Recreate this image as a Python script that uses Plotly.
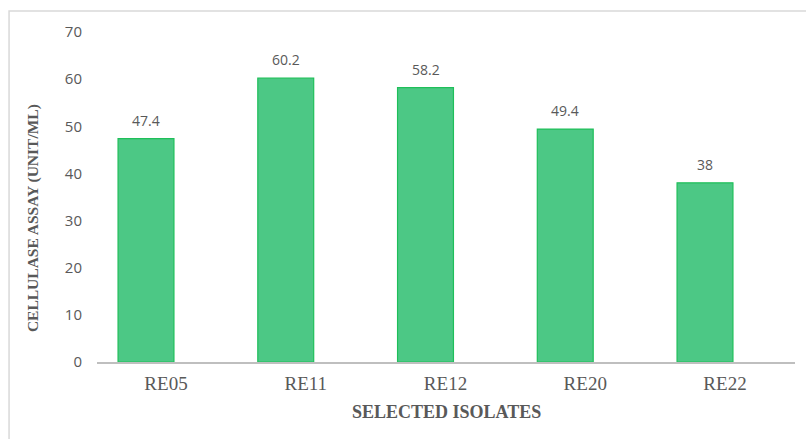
import plotly.graph_objects as go

isolates = ["RE05", "RE11", "RE12", "RE20", "RE22"]
activity = [47.4, 60.2, 58.2, 49.4, 38]
y_ticks = [0, 10, 20, 30, 40, 50, 60, 70]

grey_text = "#595959"
serif = "Liberation Serif, Times New Roman, serif"
sans = "Open Sans, Noto Sans, sans-serif"

fig = go.Figure()
fig.add_trace(go.Bar(
    x=isolates,
    y=activity,
    marker=dict(color="#4CC885", line=dict(color="#1FBF5A", width=1.2)),
    width=0.4,
    hoverinfo="x+y",
))

# value labels above each bar
for name, val in zip(isolates, activity):
    fig.add_annotation(
        x=name, y=val, xref="x", yref="y",
        text=f"{val:g}", showarrow=False,
        yanchor="bottom", yshift=7,
        font=dict(family=sans, size=14, color=grey_text),
    )

# axis titles
fig.add_annotation(
    x=0.5, y=-0.1515, xref="paper", yref="paper",
    text="<b>SELECTED ISOLATES</b>", showarrow=False,
    xanchor="center", yanchor="middle",
    font=dict(family=serif, size=18, color=grey_text),
)
fig.add_annotation(
    x=-0.0917, y=0.436, xref="paper", yref="paper",
    text="<b>CELLULASE ASSAY (UNIT/ML)</b>", showarrow=False,
    textangle=-90, xanchor="center", yanchor="middle",
    font=dict(family=serif, size=15.5, color=grey_text),
)

# chart-area border (left and top edges visible)
fig.add_shape(
    type="rect", xref="paper", yref="paper",
    x0=-0.126, x1=1.05, y0=-0.3, y1=1.0636,
    line=dict(color="#D9D9D9", width=1.5),
    fillcolor="rgba(0,0,0,0)", layer="below",
)

fig.update_layout(
    width=806, height=439,
    margin=dict(l=97, r=11, t=32, b=77),
    paper_bgcolor="white", plot_bgcolor="white",
    showlegend=False,
    xaxis=dict(
        range=[-0.3506, 4.644],
        showgrid=False, showline=True, linecolor="#BFBFBF", linewidth=2,
        ticks="", tickfont=dict(family=serif, size=19, color=grey_text),
        ticklabelstandoff=3, ticklabelshift=20,
    ),
    yaxis=dict(
        range=[0, 70], tickvals=y_ticks, showgrid=False, showline=False,
        zeroline=False, ticks="",
        tickfont=dict(family=sans, size=15, color=grey_text),
        ticklabelstandoff=14,
    ),
)

fig.write_html("out.html")
